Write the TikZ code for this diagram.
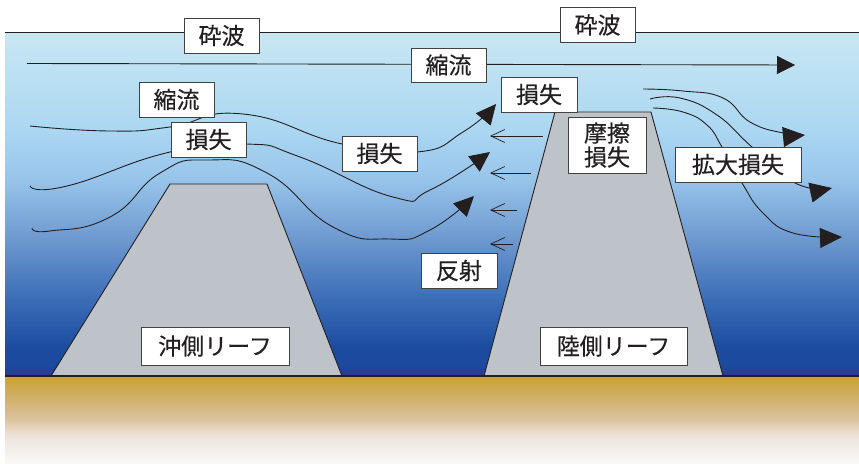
\documentclass[tikz,border=0pt]{standalone}
\usepackage{fontspec}
\setmainfont{Noto Sans CJK JP}[FakeBold=0.35]
\usepackage{xcolor}
\usetikzlibrary{arrows.meta, positioning}
\definecolor{InkGray}{RGB}{35, 31, 32}
\definecolor{ReefGray}{RGB}{190, 195, 202}
\definecolor{SeaA}{RGB}{201, 231, 243}
\definecolor{SeaB}{RGB}{171, 215, 242}
\definecolor{SeaC}{RGB}{151, 196, 234}
\definecolor{SeaD}{RGB}{109, 152, 207}
\definecolor{SeaE}{RGB}{58, 108, 182}
\definecolor{SeaF}{RGB}{27, 74, 158}
\definecolor{SeaG}{RGB}{47, 53, 148}
\definecolor{SandA}{RGB}{203, 162, 56}
\definecolor{SandB}{RGB}{207, 174, 98}
\definecolor{SandC}{RGB}{220, 196, 160}
\definecolor{SandD}{RGB}{237, 227, 218}
\definecolor{SandE}{RGB}{248, 248, 248}
\pgfdeclareverticalshading{seawater}{100bp}{
  color(0bp)=(SeaG); color(25bp)=(SeaG); color(26.5bp)=(SeaF); color(28.8bp)=(SeaF);
  color(36bp)=(SeaE); color(44.8bp)=(SeaD); color(53.5bp)=(SeaC); color(60.8bp)=(SeaB);
  color(75bp)=(SeaA); color(100bp)=(SeaA)}
\pgfdeclareverticalshading{seabed}{100bp}{
  color(0bp)=(SandE); color(25bp)=(SandE); color(41.3bp)=(SandD); color(50bp)=(SandC);
  color(64.5bp)=(SandB); color(75bp)=(SandA); color(100bp)=(SandA)}
\tikzset{
  label box/.style={draw=InkGray!85, fill=white, line width=1pt, text=InkGray, inner sep=0pt,
    font=\fontsize{23}{24}\selectfont, align=center},
  reef/.style={draw=InkGray, fill=ReefGray, line width=0.9pt},
  flow/.style={draw=InkGray, line width=0.9pt, -{Triangle[length=20pt,width=19pt]}},
  backflow/.style={draw=InkGray, line width=0.7pt, -{Straight Barb[length=14pt,width=13pt]}}
}

\begin{document}
\begin{tikzpicture}[x=1pt, y=-1pt]
    \useasboundingbox (0,0) rectangle (859,463);

    % water and sea bed
    \shade[shading=seawater] (5,32) rectangle (859,376);
    \shade[shading=seabed] (5,377) rectangle (859,463);
    \draw[InkGray, line width=1pt] (5,32) -- (859,32);

    % reefs
    \path[reef] (51,376) -- (170,184) -- (267,184) -- (342,376) -- cycle;
    \path[reef] (484,376) -- (555,112) -- (651,112) -- (723,376) -- cycle;
    \draw[InkGray, line width=1.4pt] (5,376) -- (859,376);

    % free ends of the flow lines
    \coordinate (mainIn) at (27,63.5);
    \coordinate (mainOut) at (795,65);
    \coordinate (upperIn) at (30,126);
    \coordinate (upperOut) at (496,104);
    \coordinate (middleIn) at (30,186);
    \coordinate (middleOut) at (490,152);
    \coordinate (lowerIn) at (32,228);
    \coordinate (lowerOut) at (474,196);
    \coordinate (spreadAIn) at (643,89);
    \coordinate (spreadAOut) at (805,135);
    \coordinate (spreadBIn) at (650,99);
    \coordinate (spreadBOut) at (832,188);
    \coordinate (spreadCIn) at (653,108);
    \coordinate (spreadCOut) at (842,237);

    % flow lines over the reefs
    \draw[flow, -{Triangle[length=18pt,width=18pt]}] (mainIn) -- (mainOut);
    \draw[flow] plot[smooth, tension=0.9] coordinates {(upperIn) (110,131) (170,127) (243,114) (342,144) (417,152) (463,132) (upperOut)};
    \draw[flow] plot[smooth, tension=0.9] coordinates {(middleIn) (67,186) (170,152) (246,144) (300,157) (393,197) (430,190) (middleOut)};
    \draw[flow] plot[smooth, tension=0.9] coordinates {(lowerIn) (50,231) (110,217) (160,173) (207,160) (267,173) (333,227) (390,239) (430,230) (lowerOut)};
    \draw[flow, -{Triangle[length=22pt,width=20pt]}] plot[smooth, tension=0.8] coordinates {(spreadAIn) (683,91) (723,98) (750,122) (783,133) (spreadAOut)};
    \draw[flow, -{Triangle[length=22pt,width=20pt]}] plot[smooth, tension=0.8] coordinates {(spreadBIn) (680,98) (717,115) (752,147) (795,183) (spreadBOut)};
    \draw[flow, -{Triangle[length=22pt,width=20pt]}] plot[smooth, tension=0.8] coordinates {(spreadCIn) (683,112) (707,125) (722,147) (742,183) (763,213) (793,233) (spreadCOut)};

    % reflected waves
    \foreach \y/\xs in {136/543, 173/531, 210/517, 244/513} {
      \coordinate (backIn\y) at (\xs,\y);
      \coordinate (backOut\y) at (490,\y);
      \draw[backflow] (backIn\y) -- (backOut\y);
    }

    % labels
    \node[label box, minimum width=75pt, minimum height=35pt] (breakLeft) at (221.5,35.5) {砕波};
    \node[label box, minimum width=75pt, minimum height=35pt] (breakRight) at (597.5,25) {砕波};
    \node[label box, minimum width=75pt, minimum height=34pt] (contractTop) at (448.5,65) {縮流};
    \node[label box, minimum width=75pt, minimum height=35pt] (contractLeft) at (176.5,99.5) {縮流};
    \node[label box, minimum width=75pt, minimum height=35pt] (lossLeft) at (208.5,139.5) {損失};
    \node[label box, minimum width=75pt, minimum height=35pt] (lossMid) at (379.5,153.5) {損失};
    \node[label box, minimum width=76pt, minimum height=35pt] (lossRight) at (539,94.5) {損失};
    \node[label box, minimum width=78pt, minimum height=56pt] (friction) at (607,145) {摩擦\\損失};
    \node[label box, minimum width=126pt, minimum height=35pt] (spreadLoss) at (738,164.5) {拡大損失};
    \node[label box, minimum width=76pt, minimum height=35pt] (reflect) at (459,270.5) {反射};
    \node[label box, minimum width=148pt, minimum height=38pt] (reefOuter) at (215,346) {沖側リーフ};
    \node[label box, minimum width=147pt, minimum height=38pt] (reefInner) at (613.5,346) {陸側リーフ};
\end{tikzpicture}
\end{document}
